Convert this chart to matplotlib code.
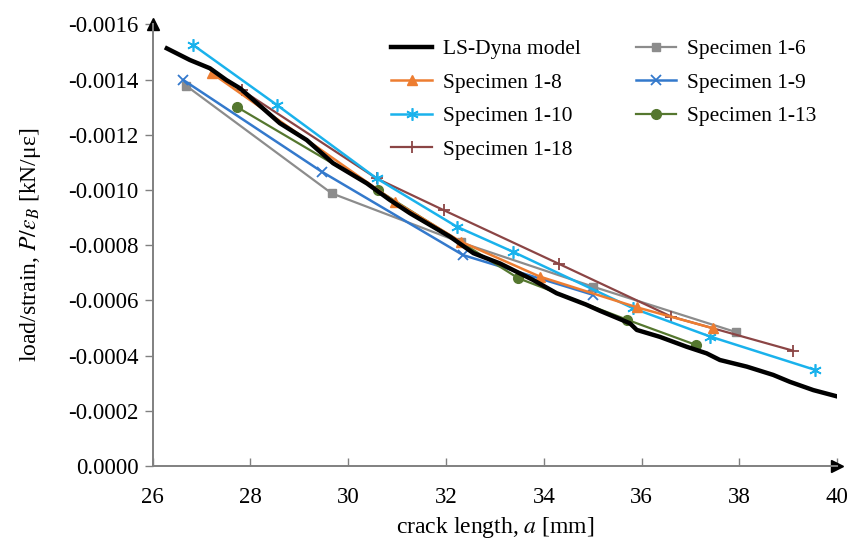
import matplotlib

matplotlib.use("Agg")
import matplotlib.pyplot as plt
from matplotlib.ticker import FuncFormatter, MultipleLocator

plt.rcParams["font.family"] = ["Liberation Serif", "DejaVu Serif"]
plt.rcParams["mathtext.fontset"] = "stix"

# LS-Dyna model curve (crack length mm, load/strain kN/microstrain)
dyna_a = [26.29, 26.76, 27.17, 27.51, 27.79, 28.60, 29.15, 29.69, 30.38, 30.85,
          31.26, 32.08, 32.56, 33.10, 33.78, 34.26, 34.86, 35.15, 35.76, 35.90,
          36.37, 36.92, 37.33, 37.60, 38.15, 38.69, 39.03, 39.51, 40.02]
dyna_v = [-0.001513, -0.001471, -0.001441, -0.001398, -0.001368, -0.001242,
          -0.001181, -0.001097, -0.001024, -0.000964, -0.000916, -0.000831,
          -0.000771, -0.000734, -0.000674, -0.000626, -0.000585, -0.000562,
          -0.000517, -0.000493, -0.000468, -0.000432, -0.000408, -0.000384,
          -0.000360, -0.000330, -0.000305, -0.000275, -0.000251]

s1_8_a = [27.21, 30.95, 32.30, 33.92, 35.90, 37.46]
s1_8_v = [-0.001423, -0.000958, -0.000813, -0.000686, -0.000575, -0.000499]

s1_10_a = [26.83, 28.54, 30.58, 32.22, 33.37, 35.83, 37.40, 39.55]
s1_10_v = [-0.001525, -0.001308, -0.001042, -0.000867, -0.000776, -0.000571,
           -0.000469, -0.000348]

s1_18_a = [27.82, 30.58, 31.95, 34.30, 36.61, 39.09]
s1_18_v = [-0.001362, -0.001042, -0.000927, -0.000733, -0.000541, -0.000418]

s1_6_a = [26.69, 29.66, 32.30, 35.00, 37.93]
s1_6_v = [-0.001377, -0.000988, -0.000810, -0.000650, -0.000485]

s1_9_a = [26.63, 29.46, 32.35, 35.01]
s1_9_v = [-0.001398, -0.001066, -0.000764, -0.000620]

s1_13_a = [27.73, 30.60, 33.48, 35.70, 37.12]
s1_13_v = [-0.001300, -0.001000, -0.000680, -0.000530, -0.000438]

fig = plt.figure(figsize=(8.5, 5.49), dpi=100)
ax = fig.add_axes([0.1796, 0.1512, 0.8054, 0.8044])

ms = 7
ax.plot(s1_6_a, s1_6_v, color="#8c8c8c", lw=1.6, marker="s", ms=6, label="Specimen 1-6")
ax.plot(s1_9_a, s1_9_v, color="#3379cc", lw=1.8, marker="x", ms=ms, mew=1.3,
        label="Specimen 1-9")
ax.plot(s1_13_a, s1_13_v, color="#55772f", lw=1.6, marker="o", ms=ms, label="Specimen 1-13")
ax.plot(s1_18_a, s1_18_v, color="#8b4545", lw=1.6, marker="+", ms=9, mew=1.3,
        label="Specimen 1-18")
ax.plot(s1_10_a, s1_10_v, color="#1ab2ec", lw=1.8, marker=(6, 2, 0), ms=9, mew=1.2,
        label="Specimen 1-10")
ax.plot(s1_8_a, s1_8_v, color="#ed7d31", lw=1.8, marker="^", ms=ms, label="Specimen 1-8")
ax.plot(dyna_a, dyna_v, color="black", lw=3.2, label="LS-Dyna model")

ax.set_xlim(26, 40)
ax.set_ylim(0, -0.0016)
ax.xaxis.set_major_locator(MultipleLocator(2))
ax.yaxis.set_major_locator(MultipleLocator(0.0002))
ax.yaxis.set_major_formatter(FuncFormatter(lambda v, _: f"{abs(v):.4f}" if abs(v) < 1e-9
                                           else f"{v:.4f}"))

for side in ["top", "right"]:
    ax.spines[side].set_visible(False)
for side in ["left", "bottom"]:
    ax.spines[side].set_color("#808080")
    ax.spines[side].set_linewidth(1.4)
ax.tick_params(axis="y", direction="out", length=6, width=1, color="#808080",
               labelsize=16.5, pad=4)
ax.tick_params(axis="x", direction="in", length=6, width=1, color="#808080",
               labelsize=16.5, pad=15)

# arrow heads at the axis ends
ax.plot(1, 0, ">k", ms=8, transform=ax.transAxes, clip_on=False)
ax.plot(0, 1, "^k", ms=8, transform=ax.transAxes, clip_on=False)

ax.set_xlabel("crack length, $a$ [mm]", fontsize=17, labelpad=5)
ax.set_ylabel(r"load/strain, $P/\varepsilon_B$ [kN/με]", fontsize=17, labelpad=18)

h, l = ax.get_legend_handles_labels()
order = ["LS-Dyna model", "Specimen 1-8", "Specimen 1-10", "Specimen 1-18",
         "Specimen 1-6", "Specimen 1-9", "Specimen 1-13"]
hd = dict(zip(l, h))
ax.legend([hd[k] for k in order], order, ncol=2, frameon=False, fontsize=15.5,
          loc="upper left", bbox_to_anchor=(0.32, 1.01), handlelength=1.9,
          columnspacing=2.55, labelspacing=0.62, handletextpad=0.5)

fig.savefig("out.png", dpi=100)
